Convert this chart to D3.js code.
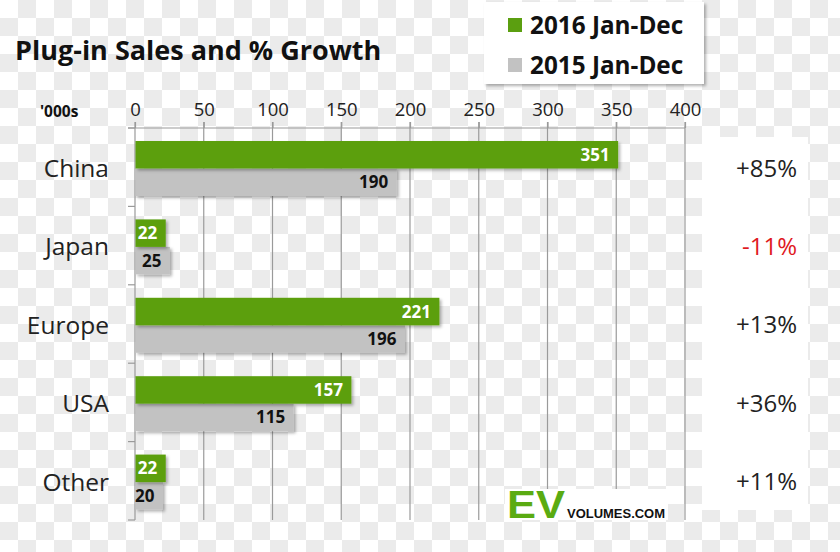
<!DOCTYPE html>
<html><head><meta charset="utf-8">
<script src="https://cdn.jsdelivr.net/npm/d3@7"></script>
<style>html,body{margin:0;padding:0;background:#fff;}svg{display:block;font-family:"Open Sans",sans-serif;}</style>
</head><body>
<script>
const categories = ["China","Japan","Europe","USA","Other"];
const sales2016 = [351,22,221,157,22];
const sales2015 = [190,25,196,115,20];
const growth = ["+85%","-11%","+13%","+36%","+11%"];
const xTicks = [0,50,100,150,200,250,300,350,400];
const seriesNames = ["2016 Jan-Dec","2015 Jan-Dec"];
const colors = {g:"#5b9f10", s:"#c2c2c2"};

const W=840,H=552;
const svg=d3.select("body").append("svg").attr("width",W).attr("height",H);
const defs=svg.append("defs");
const pat=defs.append("pattern").attr("id","chk").attr("width",36).attr("height",36).attr("patternUnits","userSpaceOnUse");
pat.append("rect").attr("width",36).attr("height",36).attr("fill","#ffffff");
pat.append("rect").attr("x",18).attr("y",0).attr("width",18).attr("height",18).attr("fill","#ebebeb");
pat.append("rect").attr("x",0).attr("y",18).attr("width",18).attr("height",18).attr("fill","#ebebeb");
const sh=defs.append("filter").attr("id","sh").attr("x","-10%").attr("y","-20%").attr("width","130%").attr("height","160%");
sh.append("feDropShadow").attr("dx",2).attr("dy",2).attr("stdDeviation",1.5).attr("flood-color","#000").attr("flood-opacity",0.3);

svg.append("rect").attr("width",W).attr("height",H).attr("fill","url(#chk)");

const x=d3.scaleLinear().domain([0,400]).range([135,685]);
const y=d3.scaleBand().domain(categories).range([128,520]);

svg.append("rect").attr("x",702).attr("y",137).attr("width",106).attr("height",373).attr("fill","#fff");

svg.append("text").attr("x",15).attr("y",60).attr("font-size",27).attr("font-weight",700).attr("fill","#111").text("Plug-in Sales and % Growth");
svg.append("text").attr("x",40).attr("y",117).attr("font-size",15.5).attr("font-weight",700).attr("fill","#111").text("'000s");

svg.append("g").selectAll("line").data(xTicks.slice(1)).join("line")
  .attr("x1",d=>x(d)).attr("x2",d=>x(d)).attr("y1",122).attr("y2",520)
  .attr("stroke","#9a9a9a").attr("stroke-width",1.2);

const ax=svg.append("g").attr("transform","translate(0,128)")
  .call(d3.axisTop(x).tickValues(xTicks).tickSize(6).tickPadding(6));
ax.select(".domain").attr("stroke","#9a9a9a").attr("stroke-width",1.2).attr("d","M128,0H685");
ax.selectAll(".tick line").attr("stroke","#9a9a9a").attr("stroke-width",1.2);
ax.selectAll(".tick text").attr("font-size",18.5).attr("fill","#222").attr("font-family","Open Sans");

svg.append("line").attr("x1",135).attr("x2",135).attr("y1",122).attr("y2",520).attr("stroke","#9a9a9a").attr("stroke-width",1.2);
const bounds=categories.map(c=>y(c)).concat([y.range()[1]]);
svg.append("g").selectAll("line").data(bounds).join("line")
  .attr("x1",128).attr("x2",135).attr("y1",d=>d).attr("y2",d=>d)
  .attr("stroke","#9a9a9a").attr("stroke-width",1.2);

const bh=27.5, padTop=13;
const data=categories.map((c,i)=>({c,a:sales2016[i],b:sales2015[i],g:growth[i]}));
const G=svg.append("g");
G.selectAll(".s").data(data).join("rect")
  .attr("x",x(0)+0.5).attr("y",d=>y(d.c)+padTop+bh).attr("width",d=>x(d.b)-x(0)).attr("height",bh)
  .attr("fill",colors.s).attr("filter","url(#sh)");
G.selectAll(".g").data(data).join("rect")
  .attr("x",x(0)+0.5).attr("y",d=>y(d.c)+padTop).attr("width",d=>x(d.a)-x(0)).attr("height",bh)
  .attr("fill",colors.g).attr("filter","url(#sh)");
G.selectAll(".gl").data(data).join("text")
  .attr("x",d=>x(d.a)-8).attr("y",d=>y(d.c)+padTop+bh/2+6).attr("text-anchor","end")
  .attr("font-size",17).attr("font-weight",700).attr("fill","#fff").text(d=>d.a);
G.selectAll(".sl").data(data).join("text")
  .attr("x",d=>x(d.b)-8).attr("y",d=>y(d.c)+padTop+bh*1.5+6).attr("text-anchor","end")
  .attr("font-size",17).attr("font-weight",700).attr("fill","#111").text(d=>d.b);

svg.append("g").selectAll("text").data(data).join("text")
  .attr("x",109).attr("y",d=>y(d.c)+padTop+bh+8.5).attr("text-anchor","end")
  .attr("font-size",24.5).attr("fill","#222").text(d=>d.c);
svg.append("g").selectAll("text").data(data).join("text")
  .attr("x",797).attr("y",d=>y(d.c)+padTop+bh+8).attr("text-anchor","end")
  .attr("font-size",24).attr("fill",d=>d.g.startsWith("-")?"#e0191e":"#222").text(d=>d.g);

const L=svg.append("g");
L.append("rect").attr("x",484).attr("y",2).attr("width",220).attr("height",82).attr("fill","#fff").attr("filter","url(#sh)");
const lc=[colors.g,colors.s];
seriesNames.forEach((n,i)=>{
  L.append("rect").attr("x",508).attr("y",18+i*40).attr("width",14).attr("height",14).attr("fill",lc[i]);
  L.append("text").attr("x",530).attr("y",34+i*40).attr("font-size",24.3).attr("font-weight",700).attr("fill","#111").text(n);
});

svg.append("rect").attr("x",505).attr("y",489).attr("width",163).attr("height",31).attr("fill","#fff");
svg.append("text").attr("x",507).attr("y",518).attr("font-size",39).attr("font-weight",700).attr("fill","#5aab12").attr("font-family","Liberation Sans, Arial").attr("textLength",58).attr("lengthAdjust","spacingAndGlyphs").text("EV");
svg.append("text").attr("x",567).attr("y",518).attr("font-size",13.5).attr("font-weight",700).attr("fill","#111").attr("font-family","Liberation Sans, Arial").attr("textLength",98).attr("lengthAdjust","spacingAndGlyphs").text("VOLUMES.COM");
</script>
</body></html>
